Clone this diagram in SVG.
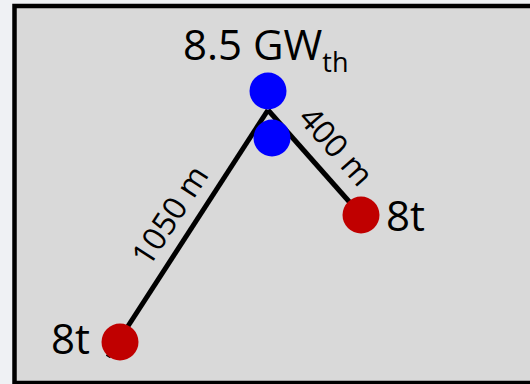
<svg xmlns="http://www.w3.org/2000/svg" width="530" height="384" viewBox="0 0 530 384">
<style>
text{font-family:"Open Sans","Noto Sans","Liberation Sans",sans-serif;fill:#000}
.big{font-size:42px}
.lbl{font-size:32px}
.edge{stroke:#000;stroke-width:5;fill:none}
.blue{fill:#0000ff}
.red{fill:#c00000}
</style>
<rect x="0" y="0" width="530" height="384" fill="#eff1f4"/>
<rect x="14.5" y="6" width="540" height="377" fill="#d9d9d9" stroke="#000" stroke-width="4.5"/>
<g id="connectors">
<line class="edge" x1="268" y1="110" x2="108" y2="357"/>
<line class="edge" x1="268" y1="110" x2="361" y2="215"/>
<text class="lbl" transform="translate(149,268) rotate(-57)">1050 m</text>
<text class="lbl" transform="translate(297,119) rotate(48.5)">400 m</text>
</g>
<g id="source-top">
<circle class="blue" cx="268" cy="91" r="18.5"/>
<text class="big" x="183" y="60">8.5 GW<tspan font-size="27" dy="12">th</tspan></text>
</g>
<g id="source-bottom">
<circle class="blue" cx="272" cy="138" r="18.5"/>
</g>
<g id="sink-right">
<circle class="red" cx="361" cy="215" r="18.5"/>
<text class="big" x="386" y="231">8t</text>
</g>
<g id="sink-left">
<circle class="red" cx="120" cy="342" r="18.5"/>
<text class="big" x="51" y="354">8t</text>
</g>
</svg>
